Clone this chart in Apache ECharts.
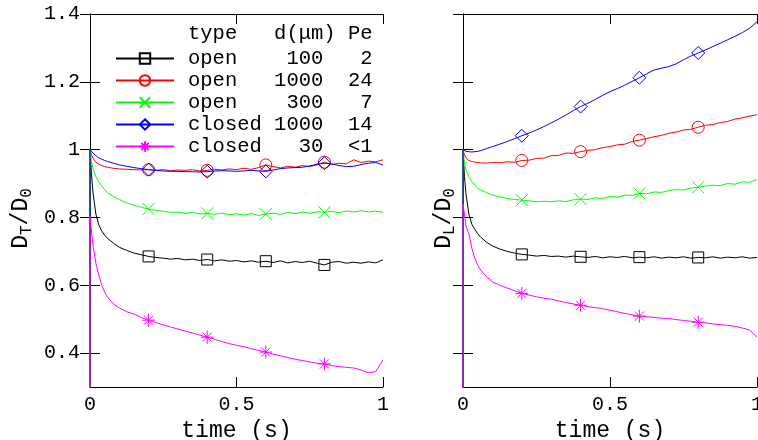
<!DOCTYPE html>
<html>
<head>
<meta charset="utf-8">
<script src="https://cdn.jsdelivr.net/npm/echarts@6/dist/echarts.min.js"></script>
<style>
  html, body { margin: 0; padding: 0; background: #fff; }
  #main { width: 758px; height: 440px; }
</style>
</head>
<body>
<div id="main"></div>
<script>
// time samples (s), shared by every curve; first point is the jump up from below at t=0
var timeS = [0, 0, 0.005, 0.01, 0.02, 0.03, 0.04, 0.05, 0.06, 0.08,
  0.1, 0.125, 0.15, 0.175, 0.2, 0.225, 0.25, 0.275, 0.3, 0.325, 0.35, 0.375,
  0.4, 0.425, 0.45, 0.475, 0.5, 0.525, 0.55, 0.575, 0.6, 0.625, 0.65, 0.675,
  0.7, 0.725, 0.75, 0.775, 0.8, 0.825, 0.85, 0.875, 0.9, 0.925, 0.95, 0.975, 1];
var markerTimes = [0.2, 0.4, 0.6, 0.8];

// legend table
var legendHeader = 'type   d(\u03bcm) Pe';
var legendRows = ['open    100   2', 'open   1000  24', 'open    300   7', 'closed 1000  14', 'closed   30  <1'];

// D_T / D_0 (left panel)
var dtOpen100 = [0, 1.0, 0.93, 0.875, 0.81, 0.778, 0.76, 0.748, 0.738, 0.724,
  0.712, 0.703, 0.695, 0.69, 0.685, 0.682, 0.68, 0.677, 0.679, 0.675, 0.677, 0.673,
  0.676, 0.672, 0.675, 0.671, 0.673, 0.669, 0.672, 0.668, 0.671, 0.667, 0.672, 0.666,
  0.67, 0.667, 0.671, 0.665, 0.66, 0.668, 0.67, 0.665, 0.668, 0.665, 0.669, 0.666, 0.675];
var dtOpen1000 = [0, 1.0, 0.985, 0.975, 0.963, 0.957, 0.953, 0.95, 0.948, 0.945,
  0.943, 0.942, 0.941, 0.94, 0.941, 0.939, 0.941, 0.938, 0.94, 0.939, 0.941, 0.937,
  0.939, 0.942, 0.94, 0.943, 0.941, 0.945, 0.942, 0.947, 0.955, 0.95, 0.946, 0.951,
  0.948, 0.953, 0.95, 0.955, 0.963, 0.956, 0.96, 0.958, 0.97, 0.962, 0.966, 0.964, 0.97];
var dtOpen300 = [0, 1.0, 0.965, 0.945, 0.92, 0.905, 0.893, 0.882, 0.873, 0.862,
  0.853, 0.843, 0.836, 0.83, 0.825, 0.821, 0.818, 0.815, 0.816, 0.812, 0.815, 0.81,
  0.812, 0.809, 0.813, 0.808, 0.811, 0.807, 0.812, 0.806, 0.81, 0.813, 0.809, 0.815,
  0.811, 0.816, 0.812, 0.817, 0.815, 0.818, 0.814, 0.819, 0.816, 0.82, 0.816, 0.819, 0.815];
var dtClosed1000 = [0, 1.0, 0.995, 0.99, 0.982, 0.976, 0.972, 0.968, 0.965, 0.96,
  0.955, 0.951, 0.947, 0.944, 0.941, 0.939, 0.937, 0.936, 0.936, 0.935, 0.935, 0.934,
  0.935, 0.937, 0.938, 0.937, 0.936, 0.937, 0.939, 0.937, 0.936, 0.94, 0.944, 0.946,
  0.947, 0.948, 0.952, 0.957, 0.96, 0.958, 0.953, 0.95, 0.951, 0.956, 0.96, 0.962, 0.955];
var dtClosed30 = [0, 0.803, 0.76, 0.72, 0.665, 0.63, 0.6, 0.58, 0.565, 0.545,
  0.533, 0.522, 0.515, 0.505, 0.497, 0.49, 0.483, 0.477, 0.471, 0.465, 0.459, 0.453,
  0.447, 0.441, 0.434, 0.428, 0.423, 0.419, 0.413, 0.408, 0.403, 0.397, 0.392, 0.387,
  0.382, 0.378, 0.374, 0.37, 0.368, 0.363, 0.36, 0.358, 0.356, 0.35, 0.342, 0.345, 0.38];

// D_L / D_0 (right panel)
var dlOpen100 = [0, 1.0, 0.92, 0.87, 0.81, 0.78, 0.765, 0.752, 0.742, 0.727,
  0.716, 0.707, 0.7, 0.695, 0.691, 0.689, 0.686, 0.688, 0.685, 0.686, 0.683, 0.686,
  0.684, 0.682, 0.685, 0.681, 0.684, 0.682, 0.685, 0.681, 0.683, 0.681, 0.684, 0.68,
  0.683, 0.681, 0.684, 0.68, 0.682, 0.681, 0.684, 0.68, 0.683, 0.681, 0.684, 0.68, 0.682];
var dlOpen1000 = [0, 1.0, 0.985, 0.976, 0.968, 0.965, 0.963, 0.962, 0.961, 0.96,
  0.962, 0.961, 0.964, 0.963, 0.968, 0.969, 0.974, 0.975, 0.982, 0.983, 0.99, 0.989,
  0.994, 0.998, 1.0, 1.006, 1.009, 1.014, 1.016, 1.024, 1.028, 1.033, 1.038, 1.042,
  1.048, 1.052, 1.058, 1.06, 1.066, 1.072, 1.074, 1.08, 1.083, 1.09, 1.094, 1.099, 1.103];
var dlOpen300 = [0, 1.0, 0.96, 0.94, 0.92, 0.905, 0.895, 0.887, 0.881, 0.873,
  0.866, 0.861, 0.856, 0.853, 0.851, 0.849, 0.846, 0.848, 0.846, 0.849, 0.847, 0.852,
  0.854, 0.853, 0.858, 0.856, 0.862, 0.86, 0.866, 0.865, 0.871, 0.87, 0.875, 0.874,
  0.879, 0.882, 0.881, 0.887, 0.889, 0.893, 0.895, 0.894, 0.9, 0.898, 0.905, 0.904, 0.912];
var dlClosed1000 = [0, 1.0, 0.997, 0.995, 0.994, 0.993, 0.994, 0.995, 0.997, 1.003,
  1.009, 1.016, 1.024, 1.032, 1.041, 1.049, 1.058, 1.068, 1.079, 1.09, 1.102, 1.115,
  1.127, 1.137, 1.148, 1.16, 1.171, 1.18, 1.19, 1.201, 1.212, 1.224, 1.235, 1.24,
  1.245, 1.253, 1.265, 1.276, 1.285, 1.294, 1.304, 1.314, 1.324, 1.334, 1.345, 1.358, 1.377];
var dlClosed30 = [0, 0.84, 0.81, 0.775, 0.752, 0.71, 0.68, 0.66, 0.645, 0.625,
  0.61, 0.6, 0.592, 0.584, 0.576, 0.571, 0.566, 0.562, 0.559, 0.554, 0.549, 0.545,
  0.541, 0.537, 0.534, 0.531, 0.527, 0.522, 0.517, 0.513, 0.509, 0.507, 0.505, 0.503,
  0.502, 0.499, 0.496, 0.494, 0.491, 0.489, 0.486, 0.484, 0.482, 0.479, 0.474, 0.468, 0.447];

var xTicks = [0, 0.5, 1];
var yTicks = [0.4, 0.6, 0.8, 1, 1.2, 1.4];

var FONT = 'Liberation Mono, DejaVu Sans Mono, monospace';

var styles = [
  { color: '#000000', symbol: 'rect', size: 11 },
  { color: '#ff0000', symbol: 'circle', size: 12 },
  { color: '#00ff00', symbol: 'path://M0 0L10 10M10 0L0 10', size: 12 },
  { color: '#0000ff', symbol: 'diamond', size: 13 },
  { color: '#ff00ff', symbol: 'path://M5 0L5 10M0 5L10 5M1.5 1.5L8.5 8.5M8.5 1.5L1.5 8.5', size: 13 }
];
var names = ['open 100', 'open 1000', 'open 300', 'closed 1000', 'closed 30'];

function buildData(vals) {
  return timeS.map(function (t, i) {
    if (i > 0 && markerTimes.indexOf(t) >= 0) return [t, vals[i]];
    return { value: [t, vals[i]], symbol: 'none' };
  });
}

function makeSeries(vals, k, panel) {
  var s = styles[k];
  return {
    name: names[k],
    type: 'line',
    xAxisIndex: panel * 2,
    yAxisIndex: panel * 2,
    data: buildData(vals),
    symbol: s.symbol,
    symbolSize: s.size,
    showSymbol: true,
    showAllSymbol: true,
    lineStyle: { color: s.color, width: 1 },
    itemStyle: { color: 'rgba(0,0,0,0)', borderColor: s.color, borderWidth: 1 },
    emphasis: { disabled: true },
    z: 2 + k
  };
}

function xAxisPair(grid) {
  return [{
    gridIndex: grid, type: 'value', position: 'bottom', min: 0, max: 1, interval: 0.5,
    axisLine: { lineStyle: { color: '#000', width: 1 } },
    axisTick: { inside: true, length: 10, customValues: xTicks, lineStyle: { color: '#000' } },
    axisLabel: { color: '#000', customValues: xTicks, fontFamily: FONT, fontSize: 20, margin: 8 },
    splitLine: { show: false },
    name: 'time (s)', nameLocation: 'middle', nameGap: 32,
    nameTextStyle: { color: '#000', fontFamily: FONT, fontSize: 23 }
  }, {
    gridIndex: grid, type: 'value', position: 'top', min: 0, max: 1, interval: 0.5,
    axisLine: { lineStyle: { color: '#000', width: 1 } },
    axisTick: { inside: true, length: 10, customValues: xTicks, lineStyle: { color: '#000' } },
    axisLabel: { show: false },
    splitLine: { show: false }
  }];
}
function yAxisPair(grid, showLabels, nameRich, gap) {
  return [{
    gridIndex: grid, type: 'value', position: 'left', min: 0.3, max: 1.4,
    axisLine: { lineStyle: { color: '#000', width: 1 } },
    axisTick: { inside: true, length: 10, customValues: yTicks, lineStyle: { color: '#000' } },
    axisLabel: { show: showLabels, customValues: yTicks, color: '#000', fontFamily: FONT, fontSize: 20, margin: 10 },
    splitLine: { show: false },
    name: nameRich, nameLocation: 'middle', nameGap: gap, nameRotate: 90,
    nameTextStyle: {
      color: '#000',
      padding: [0, 36, 0, 0],
      rich: {
        m: { fontFamily: FONT, fontSize: 23, color: '#000', lineHeight: 30 },
        s: { fontFamily: FONT, fontSize: 16, color: '#000', lineHeight: 30, padding: [12, 0, 0, 0] }
      }
    }
  }, {
    gridIndex: grid, type: 'value', position: 'right', min: 0.3, max: 1.4,
    axisLine: { lineStyle: { color: '#000', width: 1 } },
    axisTick: { inside: true, length: 10, customValues: yTicks, lineStyle: { color: '#000' } },
    axisLabel: { show: false, customValues: yTicks },
    splitLine: { show: false }
  }];
}

var chart = echarts.init(document.getElementById('main'));
var leftSet = [dtOpen100, dtOpen1000, dtOpen300, dtClosed1000, dtClosed30];
var rightSet = [dlOpen100, dlOpen1000, dlOpen300, dlClosed1000, dlClosed30];
var series = [];
leftSet.forEach(function (v, k) { series.push(makeSeries(v, k, 0)); });
rightSet.forEach(function (v, k) { series.push(makeSeries(v, k, 1)); });

var option = {
  animation: false,
  backgroundColor: '#fff',
  grid: [
    { left: 90, right: 375, top: 14, bottom: 53, outerBoundsMode: 'none' },
    { left: 463, right: 1, top: 14, bottom: 53, outerBoundsMode: 'none' }
  ],
  xAxis: xAxisPair(0).concat(xAxisPair(1)),
  yAxis: yAxisPair(0, true, '{m|D}{s|T}{m|/D}{s|0}', 54).concat(yAxisPair(1, false, '{m|D}{s|L}{m|/D}{s|0}', 4)),
  legend: {
    data: names,
    orient: 'vertical',
    left: 110,
    top: 43,
    itemWidth: 58,
    itemHeight: 13,
    itemGap: 1,
    selectedMode: false,
    formatter: function (name) {
      return '{t|' + legendRows[names.indexOf(name)] + '}';
    },
    textStyle: {
      color: '#000',
      rich: { t: { fontFamily: FONT, fontSize: 20.5, lineHeight: 20, color: '#000', padding: [0, 0, 0, 9] } }
    }
  },
  graphic: [{
    type: 'text', left: 188, top: 23,
    style: { text: legendHeader, font: '20.5px ' + FONT, fill: '#000' }
  }],
  series: series
};
chart.setOption(option);
</script>
</body>
</html>
